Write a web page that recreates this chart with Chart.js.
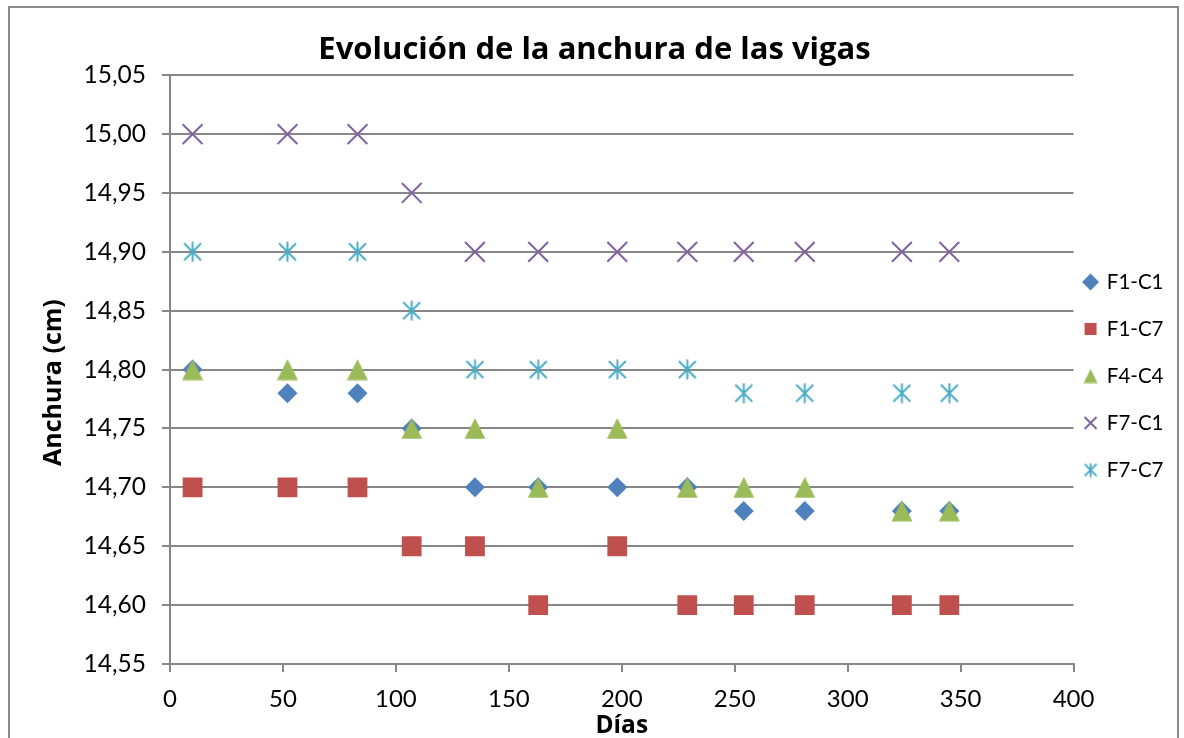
<!DOCTYPE html>
<html lang="es">
<head>
<meta charset="utf-8">
<title>Evolución de la anchura de las vigas</title>
<script src="https://cdn.jsdelivr.net/npm/chart.js@4.4.1/dist/chart.umd.min.js"></script>
<style>
  html, body { margin: 0; padding: 0; background: #fff; overflow: hidden; }
  #wrap { position: relative; width: 1184px; height: 738px; }
  #frame {
    position: absolute; left: 8px; top: 6px; width: 1167px; height: 800px;
    border: 2px solid #8a8a8a; pointer-events: none;
  }
</style>
</head>
<body>
<div id="wrap">
  <canvas id="widthChart"></canvas>
  <div id="frame"></div>
</div>
<script>
// Measurement days (x) shared by every beam
const days = [10, 52, 83, 107, 135, 163, 198, 229, 254, 281, 324, 345];

// Beam width in cm for each beam
const f1c1 = [14.80, 14.78, 14.78, 14.75, 14.70, 14.70, 14.70, 14.70, 14.68, 14.68, 14.68, 14.68];
const f1c7 = [14.70, 14.70, 14.70, 14.65, 14.65, 14.60, 14.65, 14.60, 14.60, 14.60, 14.60, 14.60];
const f4c4 = [14.80, 14.80, 14.80, 14.75, 14.75, 14.70, 14.75, 14.70, 14.70, 14.70, 14.68, 14.68];
const f7c1 = [15.00, 15.00, 15.00, 14.95, 14.90, 14.90, 14.90, 14.90, 14.90, 14.90, 14.90, 14.90];
const f7c7 = [14.90, 14.90, 14.90, 14.85, 14.80, 14.80, 14.80, 14.80, 14.78, 14.78, 14.78, 14.78];

const seriesNames = ["F1-C1", "F1-C7", "F4-C4", "F7-C1", "F7-C7"];

// Axis ranges
const xMin = 0, xMax = 400, xStep = 50;
const yMin = 14.55, yMax = 15.05, yStep = 0.05;

const BLUE = "#4F81BD", RED = "#C0504D", GREEN = "#9BBB59", PURPLE = "#8064A2", CYAN = "#4BACC6";
const GRID = "#878787";
const BOLD_FAMILY = "'Open Sans', Lato, sans-serif";

Chart.defaults.font.family = "Lato, 'Open Sans', sans-serif";
Chart.defaults.color = "#000";

// Filled triangle marker, centred in its box
function triangleMarker(size, color) {
  const c = document.createElement("canvas");
  c.width = size; c.height = size;
  const g = c.getContext("2d");
  g.fillStyle = color;
  g.beginPath();
  g.moveTo(size / 2, 0.5);
  g.lineTo(size - 0.5, size - 0.5);
  g.lineTo(0.5, size - 0.5);
  g.closePath();
  g.fill();
  return c;
}

// Excel style star: an X with a vertical bar through it
function starMarker(w, h, color, lw) {
  const c = document.createElement("canvas");
  c.width = w; c.height = h;
  const g = c.getContext("2d");
  g.strokeStyle = color;
  g.lineWidth = lw;
  const cx = w / 2, cy = h / 2, a = w / 2 - 1;
  g.beginPath();
  g.moveTo(cx, 0.5); g.lineTo(cx, h - 0.5);
  g.moveTo(cx - a, cy - a); g.lineTo(cx + a, cy + a);
  g.moveTo(cx - a, cy + a); g.lineTo(cx + a, cy - a);
  g.stroke();
  return c;
}

const triPlot = triangleMarker(22, GREEN);
const triLegend = triangleMarker(15, GREEN);
const starPlot = starMarker(19, 21, CYAN, 2);
const starLegend = starMarker(14, 15, CYAN, 1.8);
const legendMarkers = { 2: triLegend, 4: starLegend };

function toPoints(values) {
  return days.map((d, i) => ({ x: d, y: values[i] }));
}

const datasets = [
  { label: seriesNames[0], data: toPoints(f1c1), pointStyle: "rectRot", pointRadius: 10,
    backgroundColor: BLUE, borderColor: BLUE, borderWidth: 0, order: 5 },
  { label: seriesNames[1], data: toPoints(f1c7), pointStyle: "rect", pointRadius: 14,
    backgroundColor: RED, borderColor: RED, borderWidth: 0, order: 4 },
  { label: seriesNames[2], data: toPoints(f4c4), pointStyle: triPlot, pointRadius: 11,
    backgroundColor: GREEN, borderColor: GREEN, borderWidth: 0, order: 3 },
  { label: seriesNames[3], data: toPoints(f7c1), pointStyle: "crossRot", pointRadius: 14,
    backgroundColor: PURPLE, borderColor: PURPLE, borderWidth: 2, order: 2 },
  { label: seriesNames[4], data: toPoints(f7c7), pointStyle: starPlot, pointRadius: 10,
    backgroundColor: CYAN, borderColor: CYAN, borderWidth: 2, order: 1 },
];

// Place the legend column close to the plot and a little lower
const legendOffset = {
  id: "legendOffset",
  afterLayout(chart) {
    const lg = chart.legend;
    const dx = (chart.chartArea.right - 15.5) - lg.left;
    lg.left += dx; lg.right += dx;
    lg.top += 7; lg.bottom += 7;
  }
};

const ctx = document.getElementById("widthChart").getContext("2d");

new Chart(ctx, {
  type: "scatter",
  data: { datasets },
  plugins: [legendOffset],
  options: {
    responsive: true,
    maintainAspectRatio: false,
    animation: false,
    layout: { padding: { left: 0, right: -5, top: 0, bottom: 0 } },
    plugins: {
      title: {
        display: true,
        text: "Evolución de la anchura de las vigas",
        font: { family: BOLD_FAMILY, size: 31, weight: "bold" },
        color: "#000",
        padding: { top: 32, bottom: 6 }
      },
      legend: {
        position: "right",
        labels: {
          usePointStyle: true,
          boxHeight: 12,
          boxWidth: 12,
          padding: 26.5,
          font: { size: 20.5 },
          color: "#000",
          sort: (a, b) => a.datasetIndex - b.datasetIndex,
          generateLabels(chart) {
            const items = Chart.defaults.plugins.legend.labels.generateLabels(chart);
            items.forEach(it => {
              if (legendMarkers[it.datasetIndex]) it.pointStyle = legendMarkers[it.datasetIndex];
            });
            return items;
          }
        }
      },
      tooltip: { enabled: false }
    },
    scales: {
      x: {
        type: "linear",
        min: xMin,
        max: xMax,
        ticks: { stepSize: xStep, padding: 13, font: { size: 24 }, color: "#000" },
        grid: { drawOnChartArea: false, drawTicks: true, tickLength: 8, color: GRID, lineWidth: 2 },
        border: { display: true, color: GRID, width: 2 },
        title: { display: true, text: "Días", font: { family: BOLD_FAMILY, size: 24.5, weight: "bold" }, color: "#000",
          padding: { top: 0, bottom: -3 } },
        afterFit(scale) { scale.height = 74; }
      },
      y: {
        type: "linear",
        min: yMin,
        max: yMax,
        ticks: {
          stepSize: yStep,
          padding: 16,
          font: { size: 24.5 },
          color: "#000",
          callback: v => v.toFixed(2).replace(".", ",")
        },
        grid: { drawTicks: true, tickLength: 8, color: GRID, lineWidth: 2 },
        border: { display: true, color: GRID, width: 2 },
        title: { display: true, text: "Anchura (cm)    ", font: { family: BOLD_FAMILY, size: 25, weight: "bold" }, color: "#000",
          padding: { top: 39, bottom: 0 } },
        afterFit(scale) { scale.width = 170; }
      }
    }
  }
});
</script>
</body>
</html>
